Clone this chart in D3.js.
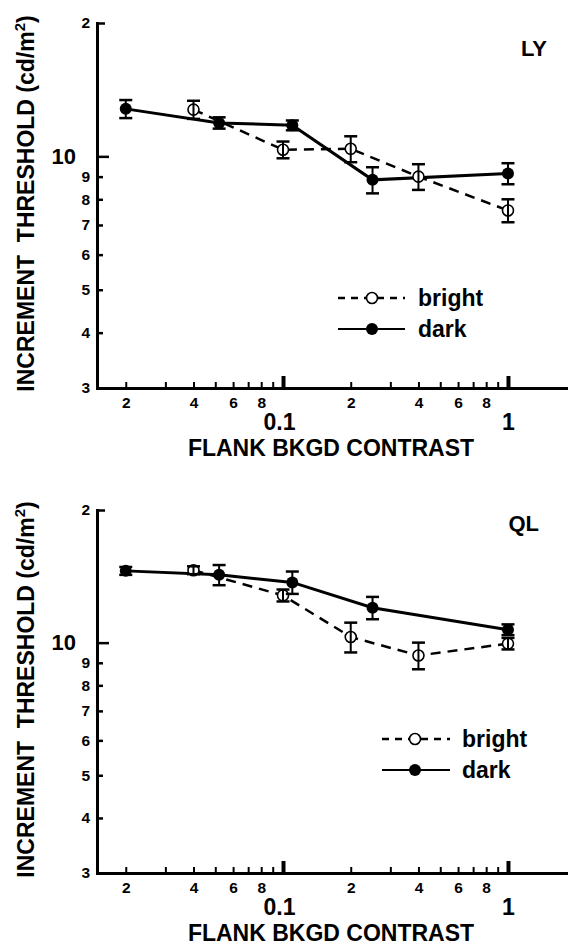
<!DOCTYPE html>
<html>
<head>
<meta charset="utf-8">
<script src="https://cdn.jsdelivr.net/npm/d3@7"></script>
<style>
  html, body { margin: 0; padding: 0; background: #fff; }
  svg { display: block; }
  text { font-family: "Liberation Sans", Arial, Helvetica, sans-serif; font-weight: bold; fill: #000; }
</style>
</head>
<body>
<svg id="chart" width="568" height="945"></svg>
<script>
// ---------- DATA ----------
const xTickValues = [0.02, 0.03, 0.04, 0.05, 0.06, 0.07, 0.08, 0.09, 0.1, 0.2, 0.3, 0.4, 0.5, 0.6, 0.7, 0.8, 0.9, 1];
const xTickLabels = ["2", "", "4", "", "6", "", "8", "", "0.1", "2", "", "4", "", "6", "", "8", "", "1"];
const yTickValues = [3, 4, 5, 6, 7, 8, 9, 10, 20];
const yTickLabels = ["3", "4", "5", "6", "7", "8", "9", "10", "2"];

// Subject LY
const lyBrightContrast = [0.04, 0.1, 0.2, 0.4, 1.0];
const lyBright = [12.75, 10.35, 10.4, 9.0, 7.55];
const lyBrightErr = [0.6, 0.45, 0.7, 0.6, 0.45];
const lyDarkContrast = [0.02, 0.052, 0.11, 0.25, 1.0];
const lyDark = [12.8, 11.9, 11.75, 8.85, 9.15];
const lyDarkErr = [0.6, 0.35, 0.3, 0.6, 0.5];

// Subject QL
const qlBrightContrast = [0.04, 0.1, 0.2, 0.4, 1.0];
const qlBright = [14.6, 12.8, 10.3, 9.35, 9.95];
const qlBrightErr = [0.3, 0.4, 0.8, 0.65, 0.3];
const qlDarkContrast = [0.02, 0.052, 0.11, 0.25, 1.0];
const qlDark = [14.55, 14.25, 13.7, 12.0, 10.7];
const qlDarkErr = [0.3, 0.75, 0.8, 0.7, 0.3];

const seriesNames = ["bright", "dark"];
const panelNames = ["LY", "QL"];

// ---------- DRAW ----------
const svg = d3.select("#chart");

function zip(xs, ys, es) { return xs.map((x, i) => ({ x: x, y: ys[i], e: es[i] })); }

const panels = [
  { name: panelNames[0], top: 23, bottom: 388,
    bright: zip(lyBrightContrast, lyBright, lyBrightErr),
    dark: zip(lyDarkContrast, lyDark, lyDarkErr),
    label: { x: 547, y: 56 },
    legend: { x0: 338, x1: 405, cx: 372, tx: 418, y0: 298, y1: 329 } },
  { name: panelNames[1], top: 510, bottom: 873,
    bright: zip(qlBrightContrast, qlBright, qlBrightErr),
    dark: zip(qlDarkContrast, qlDark, qlDarkErr),
    label: { x: 539, y: 531 },
    legend: { x0: 382, x1: 450, cx: 415, tx: 462, y0: 739, y1: 770 } }
];

const x = d3.scaleLog().domain([0.0149, 2]).range([97, 575.7]);

panels.forEach(p => {
  const y = d3.scaleLog().domain([3, 20]).range([p.bottom, p.top]);
  const g = svg.append("g");

  // Y axis
  const yAxis = d3.axisLeft(y)
    .tickValues(yTickValues)
    .tickFormat((d, i) => yTickLabels[i])
    .tickSizeOuter(0)
    .tickSizeInner(-6)
    .tickPadding(8);
  const ya = g.append("g").attr("transform", "translate(97,0)").call(yAxis);
  ya.select(".domain").attr("stroke-width", 3).attr("stroke-linecap", "square");
  ya.selectAll(".tick line").attr("stroke-width", 2.5)
    .attr("x2", d => d === 10 ? 12 : (d === 20 ? 8 : 6));
  ya.selectAll(".tick text")
    .attr("font-size", d => d === 10 ? 22 : 15.5)
    .attr("x", d => d === 10 ? -21 : -7)
    .attr("font-family", null);

  // X axis
  const xAxis = d3.axisBottom(x)
    .tickValues(xTickValues)
    .tickFormat((d, i) => xTickLabels[i])
    .tickSizeOuter(0)
    .tickSizeInner(-5)
    .tickPadding(8);
  const xa = g.append("g").attr("transform", `translate(0,${p.bottom})`).call(xAxis);
  xa.select(".domain").attr("stroke-width", 3).attr("stroke-linecap", "square");
  const isMajor = d => Math.abs(d - 0.1) < 1e-9 || Math.abs(d - 1) < 1e-9;
  xa.selectAll(".tick line")
    .attr("stroke-width", d => isMajor(d) ? 4 : 2)
    .attr("y2", d => isMajor(d) ? -12 : -6);
  xa.selectAll(".tick text")
    .attr("font-size", d => isMajor(d) ? 23 : 15.5)
    .attr("y", d => isMajor(d) ? 26 : 9)
    .attr("dx", d => Math.abs(d - 0.1) < 1e-9 ? -4 : 0)
    .attr("font-family", null);

  // X title
  g.append("text")
    .attr("x", 331).attr("y", p.bottom + 68)
    .attr("text-anchor", "middle")
    .attr("font-size", 23)
    .text("FLANK BKGD CONTRAST");

  // Y title
  const yt = g.append("text")
    .attr("transform", `translate(34,${(p.top + p.bottom) / 2 - 2}) rotate(-90)`)
    .attr("text-anchor", "middle")
    .attr("font-size", 23)
    .style("white-space", "pre");
  yt.append("tspan").text("INCREMENT  THRESHOLD (cd/m");
  yt.append("tspan").attr("font-size", 15).attr("dy", -9).text("2");
  yt.append("tspan").attr("dy", 9).text(")");

  // Panel label
  g.append("text").attr("x", p.label.x).attr("y", p.label.y)
    .attr("text-anchor", "end").attr("font-size", 22).text(p.name);

  const line = d3.line().x(d => x(d.x)).y(d => y(d.y));

  // Lines
  g.append("path").datum(p.bright).attr("d", line)
    .attr("fill", "none").attr("stroke", "#000").attr("stroke-width", 2.5)
    .attr("stroke-dasharray", "10,7");
  g.append("path").datum(p.dark).attr("d", line)
    .attr("fill", "none").attr("stroke", "#000").attr("stroke-width", 3);

  // Markers
  g.selectAll(".mb").data(p.bright).enter().append("circle")
    .attr("cx", d => x(d.x)).attr("cy", d => y(d.y)).attr("r", 5.5)
    .attr("fill", "#fff").attr("stroke", "#000").attr("stroke-width", 1.6);
  g.selectAll(".md").data(p.dark).enter().append("circle")
    .attr("cx", d => x(d.x)).attr("cy", d => y(d.y)).attr("r", 6)
    .attr("fill", "#000");

  // Error bars
  const all = p.bright.concat(p.dark);
  const eb = g.selectAll(".eb").data(all).enter().append("g");
  eb.append("line")
    .attr("x1", d => x(d.x)).attr("x2", d => x(d.x))
    .attr("y1", d => y(d.y + d.e)).attr("y2", d => y(d.y - d.e))
    .attr("stroke", "#000").attr("stroke-width", 2);
  eb.append("line")
    .attr("x1", d => x(d.x) - 6.5).attr("x2", d => x(d.x) + 6.5)
    .attr("y1", d => y(d.y + d.e)).attr("y2", d => y(d.y + d.e))
    .attr("stroke", "#000").attr("stroke-width", 2.5);
  eb.append("line")
    .attr("x1", d => x(d.x) - 6.5).attr("x2", d => x(d.x) + 6.5)
    .attr("y1", d => y(d.y - d.e)).attr("y2", d => y(d.y - d.e))
    .attr("stroke", "#000").attr("stroke-width", 2.5);

  // Legend
  const L = p.legend;
  g.append("line").attr("x1", L.x0).attr("x2", L.x1).attr("y1", L.y0).attr("y2", L.y0)
    .attr("stroke", "#000").attr("stroke-width", 2.5).attr("stroke-dasharray", "7,6");
  g.append("circle").attr("cx", L.cx).attr("cy", L.y0).attr("r", 5.5)
    .attr("fill", "#fff").attr("stroke", "#000").attr("stroke-width", 1.6);
  g.append("text").attr("x", L.tx).attr("y", L.y0 + 8).attr("font-size", 23).text(seriesNames[0]);
  g.append("line").attr("x1", L.x0).attr("x2", L.x1).attr("y1", L.y1).attr("y2", L.y1)
    .attr("stroke", "#000").attr("stroke-width", 2);
  g.append("circle").attr("cx", L.cx).attr("cy", L.y1).attr("r", 6).attr("fill", "#000");
  g.append("text").attr("x", L.tx).attr("y", L.y1 + 8).attr("font-size", 23).text(seriesNames[1]);
});
</script>
</body>
</html>
